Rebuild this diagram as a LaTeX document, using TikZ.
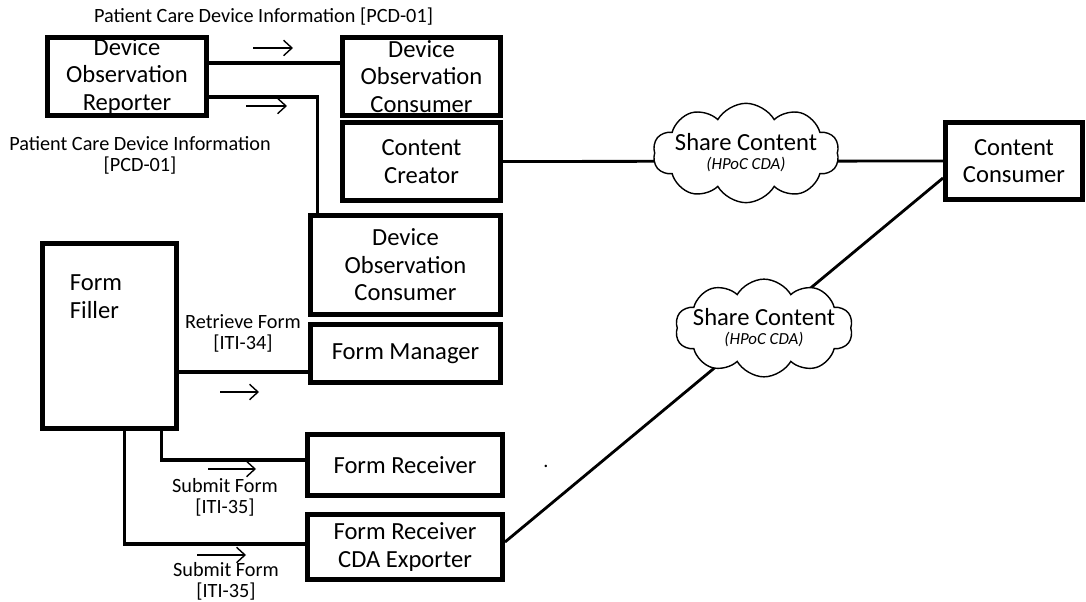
\documentclass[tikz,border=0pt]{standalone}
\usepackage{fontspec}
\setmainfont{Carlito}
\usetikzlibrary{calc,arrows.meta,shapes.symbols}
\newcommand{\boxfont}{\fontsize{17.5}{19.5}\selectfont}
\newcommand{\lblfont}{\fontsize{14.4}{15}\selectfont}
\def\flowarrow(#1)(#2){\draw[line width=1pt, -{Straight Barb[length=6pt,width=11pt]}] (#1) -- ++(#2,0);}

\tikzset{
	box/.style={draw, line width=3.5pt, inner sep=0pt, align=center, font=\boxfont},
	lbl/.style={inner sep=0pt, align=center, font=\lblfont},
	conn/.style={line width=2.8pt},
	share/.style={line width=2pt},
	sharecloud/.style={cloud, cloud ignores aspect, draw, fill=white, line width=1pt, cloud puffs=10, cloud puff arc=120, inner ysep=4pt, align=center, font=\boxfont}
}

\begin{document}
\begin{tikzpicture}[x=0.025cm, y=-0.025cm]
		%%%%% START %%%%%
		\useasboundingbox (0, 0) rectangle (1086, 602);
		
		\node[box, minimum width=3.975cm, minimum height=1.95cm] (dor) at (127, 76.5) {Device\\Observation\\Reporter};
		\node[box, minimum width=3.95cm, minimum height=1.95cm] (doc1) at (421.5, 76.5) {Device\\Observation\\Consumer};
		\node[box, minimum width=3.95cm, minimum height=1.95cm] (creator) at (421.5, 161.5) {Content\\Creator};
		\node[box, minimum width=4.75cm, minimum height=2.475cm] (doc2) at (405.5, 265) {Device\\Observation\\Consumer};
		\node[box, minimum width=4.75cm, minimum height=1.45cm] (manager) at (405.5, 353.5) {Form Manager};
		\node[box, minimum width=3.35cm, minimum height=4.625cm,
			label={[font=\boxfont, align=left, inner sep=0pt, anchor=north west, xshift=21pt, yshift=-24pt]north west:Form\\Filler}] (filler) at (109.5, 336) {};
		\node[box, minimum width=4.875cm, minimum height=1.525cm] (receiver) at (405, 465) {Form Receiver};
		\node[box, minimum width=4.875cm, minimum height=1.625cm] (exporter) at (405, 547) {Form Receiver\\CDA Exporter};
		\node[box, minimum width=3.425cm, minimum height=1.925cm] (consumer) at (1014, 161) {Content\\Consumer};
		
		% PCD-01
		\draw[conn] ($(dor.east)+(0,-13.5)$) coordinate (p1) -- (p1 -| doc1.west);
		\draw[conn] ($(dor.east)+(0,20.5)$) -| ($(doc2.north west)+(9.5,0)$);
		\node[lbl] (pcd1) at (263.5, 17) {Patient Care Device Information [PCD-01]};
		\node[lbl] (pcd2) at (140, 155.5) {Patient Care Device Information\\{[PCD-01]}};
		\flowarrow(253, 48)(40)
		\flowarrow(246, 106)(41)
		
		% ITI-34
		\draw[conn] ($(manager.west)+(0,18.5)$) coordinate (p2) -- (p2 -| filler.east);
		\node[lbl] (iti34) at (243, 333) {Retrieve Form\\{[ITI-34]}};
		\flowarrow(220, 392)(39)
		
		% ITI-35
		\draw[conn] ($(filler.south east)+(-17.5,0)$) |- ($(receiver.west)+(0,-5)$);
		\draw[conn] ($(filler.south west)+(84.5,0)$) |- ($(exporter.west)+(0,-3)$);
		\node[lbl] (iti35a) at (225, 497) {Submit Form\\{[ITI-35]}};
		\node[lbl] (iti35b) at (226, 581) {Submit Form\\{[ITI-35]}};
		\flowarrow(208, 469)(48)
		\flowarrow(197, 555)(49)
		\node[lbl] (dot) at (546, 466) {.};
		
		% share content
		\draw[share] (creator.east) -- (consumer.west);
		\draw[share] ($(exporter.east)+(0,-5)$) -- ($(consumer.west)+(0,17)$);
		\node[sharecloud, inner xsep=-4.6pt] (cloud1) at (746, 153) {Share Content\\[-6pt]{\fontsize{12}{14}\selectfont\itshape (HPoC CDA)}};
		\node[sharecloud, inner xsep=-6.9pt] (cloud2) at (764, 328) {Share Content\\[-6pt]{\fontsize{12}{14}\selectfont\itshape (HPoC CDA)}};
		
		%%%%% END %%%%%
	\end{tikzpicture}
\end{document}
